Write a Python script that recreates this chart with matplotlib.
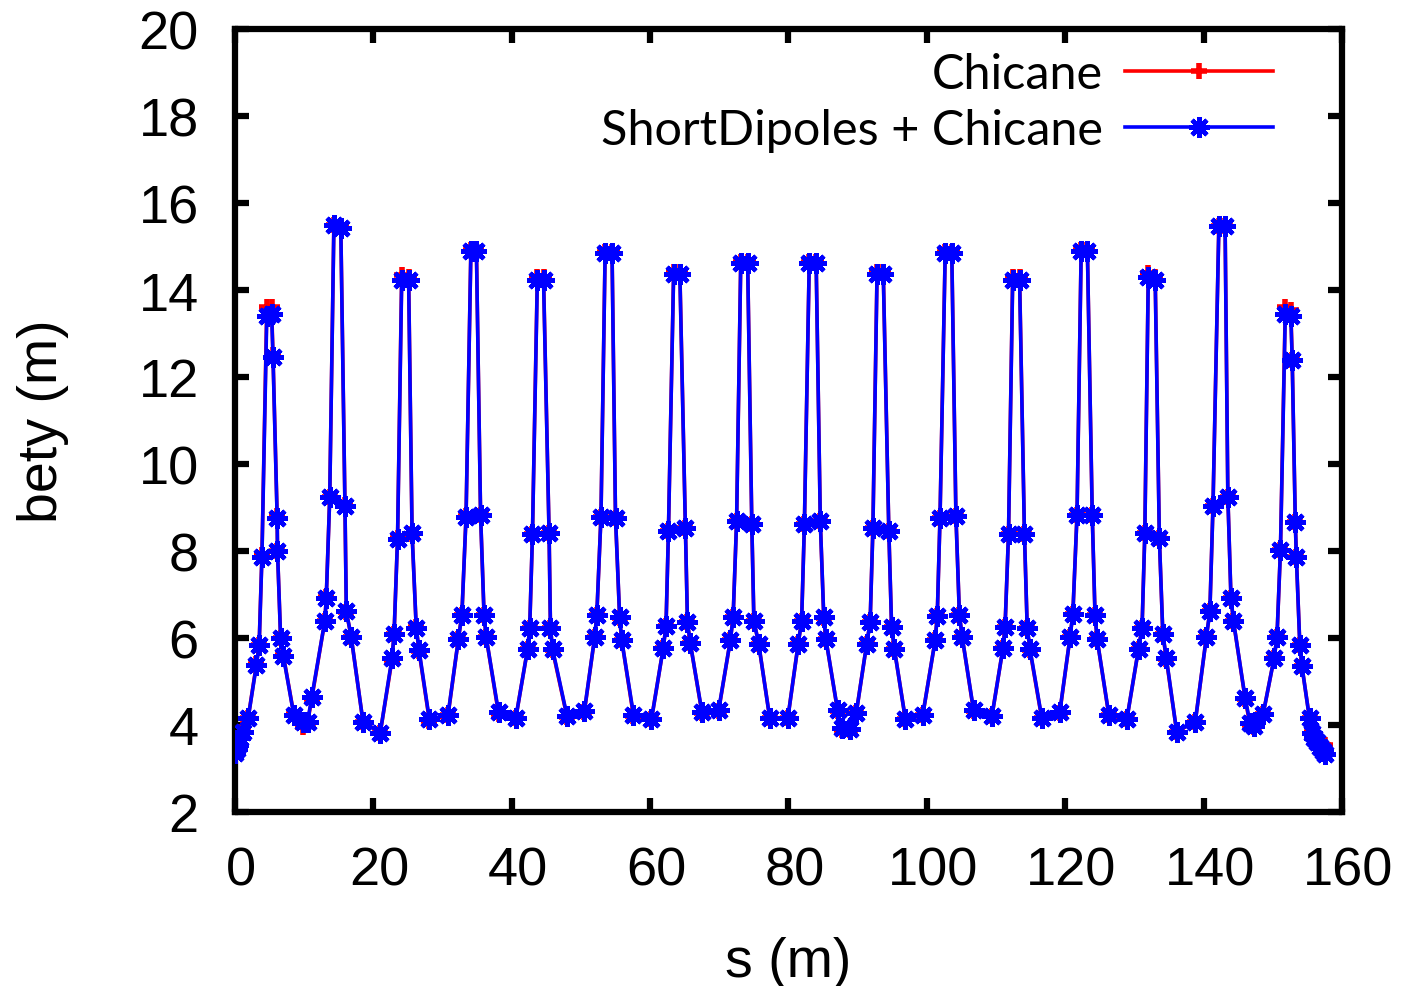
import matplotlib
matplotlib.use("Agg")
import matplotlib.pyplot as plt
import matplotlib.transforms as mtrans

# positions along the line (m), shared by both runs
s_pos = [
    0.0, 0.25, 0.5, 0.8, 1.1, 1.9,
    3.1, 3.5, 3.9, 4.6, 5.3, 5.5, 6.1, 6.15, 6.6, 7.0,
    8.5, 9.9, 10.5, 11.1,
    13.0, 13.2, 13.7, 14.3, 15.3, 15.9, 16.1, 16.8,
    18.5, 21.0,
    22.7, 23.0, 23.5, 24.1, 25.1, 25.6, 26.2, 26.6,
    28.1, 30.8,
    32.3, 32.8, 33.4, 34.1, 34.9, 35.5, 36.0, 36.3,
    38.1, 40.6,
    42.3, 42.6, 43.0, 43.7, 44.6, 45.4, 45.6, 45.9,
    48.0, 50.5,
    52.0, 52.3, 52.9, 53.5, 54.5, 55.0, 55.6, 55.9,
    57.6, 60.2,
    61.9, 62.3, 62.65, 63.4, 64.3, 65.1, 65.4, 65.8,
    67.5, 69.9,
    71.6, 72.0, 72.5, 73.1, 74.1, 74.7, 75.0, 75.7,
    77.3, 79.9,
    81.4, 81.9, 82.3, 83.0, 84.0, 84.6, 85.1, 85.4,
    87.1, 87.7, 88.9, 89.8,
    91.3, 91.8, 92.2, 92.8, 93.7, 94.5, 94.9, 95.3,
    96.9, 99.4,
    101.2, 101.5, 101.9, 102.65, 103.6, 104.2, 104.7, 105.1,
    106.75, 109.4,
    111.0, 111.3, 111.8, 112.4, 113.4, 114.1, 114.5, 114.9,
    116.6, 119.2,
    120.7, 121.1, 121.7, 122.3, 123.2, 123.9, 124.3, 124.6,
    126.3, 128.9,
    130.6, 131.1, 131.5, 132.0, 133.0, 133.6, 134.1, 134.6,
    136.1, 138.8,
    140.4, 140.9, 141.35, 142.2, 143.1, 143.5, 143.95, 144.3,
    146.0, 146.7, 147.3, 148.6,
    150.2, 150.6, 151.1, 151.8, 152.6, 152.8, 153.25, 153.4, 153.9, 154.2,
    155.3, 155.66, 156.0, 156.4, 156.8, 157.3, 157.6,
]

bety_short_dipoles = [
    3.35, 3.45, 3.55, 3.7, 3.85, 4.15,
    5.37, 5.84, 7.86, 13.4, 13.45, 12.46, 8.77, 8.0, 6.0, 5.58,
    4.24, 4.06, 4.08, 4.64,
    6.4, 6.92, 9.24, 15.49, 15.42, 9.03, 6.61, 6.03,
    4.08, 3.82,
    5.54, 6.10, 8.28, 14.22, 14.24, 8.41, 6.24, 5.73,
    4.13, 4.24,
    5.98, 6.54, 8.79, 14.90, 14.90, 8.83, 6.54, 6.03,
    4.29, 4.17,
    5.75, 6.24, 8.39, 14.22, 14.22, 8.41, 6.24, 5.75,
    4.2, 4.32,
    6.03, 6.54, 8.79, 14.85, 14.85, 8.77, 6.48, 5.95,
    4.24, 4.13,
    5.77, 6.28, 8.45, 14.37, 14.37, 8.52, 6.36, 5.89,
    4.29, 4.34,
    5.95, 6.48, 8.68, 14.62, 14.62, 8.61, 6.4, 5.86,
    4.15, 4.15,
    5.86, 6.4, 8.61, 14.62, 14.62, 8.68, 6.48, 5.98,
    4.34, 3.92, 3.9, 4.28,
    5.86, 6.36, 8.52, 14.37, 14.37, 8.47, 6.26, 5.75,
    4.13, 4.22,
    5.95, 6.5, 8.77, 14.85, 14.85, 8.8, 6.54, 6.03,
    4.34, 4.2,
    5.77, 6.26, 8.39, 14.22, 14.22, 8.39, 6.24, 5.75,
    4.17, 4.29,
    6.03, 6.56, 8.83, 14.9, 14.9, 8.83, 6.54, 5.98,
    4.24, 4.13,
    5.75, 6.24, 8.41, 14.3, 14.22, 8.3, 6.1, 5.55,
    3.85, 4.08,
    6.03, 6.61, 9.03, 15.46, 15.46, 9.24, 6.92, 6.4,
    4.62, 4.05, 3.97, 4.25,
    5.55, 6.03, 8.02, 13.45, 13.4, 12.4, 8.66, 7.86, 5.84, 5.36,
    4.15, 3.82, 3.7, 3.6, 3.5, 3.4, 3.33,
]

# chicane only: almost the same, peeks out at a few spots
bety_chicane = [
    3.5, 3.55, 3.7, 3.8, 3.95, 4.15,
    5.4, 5.85, 7.9, 13.6, 13.6, 12.5, 8.8, 8.0, 6.0, 5.6,
    4.25, 3.95, 4.05, 4.6,
    6.4, 6.95, 9.25, 15.5, 15.45, 9.05, 6.6, 6.03,
    4.08, 3.82,
    5.5, 6.1, 8.3, 14.35, 14.3, 8.4, 6.25, 5.7,
    4.1, 4.22,
    5.98, 6.54, 8.8, 14.92, 14.92, 8.83, 6.54, 6.03,
    4.25, 4.17,
    5.75, 6.22, 8.39, 14.3, 14.3, 8.41, 6.24, 5.72,
    4.18, 4.3,
    6.03, 6.54, 8.79, 14.87, 14.87, 8.77, 6.45, 5.95,
    4.2, 4.13,
    5.77, 6.28, 8.45, 14.42, 14.42, 8.52, 6.36, 5.89,
    4.27, 4.32,
    5.95, 6.48, 8.68, 14.64, 14.64, 8.61, 6.4, 5.86,
    4.15, 4.15,
    5.86, 6.4, 8.61, 14.64, 14.64, 8.68, 6.45, 5.98,
    4.32, 3.88, 3.88, 4.28,
    5.86, 6.36, 8.52, 14.42, 14.42, 8.47, 6.26, 5.75,
    4.13, 4.22,
    5.95, 6.5, 8.77, 14.87, 14.87, 8.8, 6.54, 6.03,
    4.32, 4.2,
    5.77, 6.26, 8.39, 14.3, 14.3, 8.39, 6.24, 5.72,
    4.15, 4.27,
    6.03, 6.56, 8.83, 14.92, 14.92, 8.83, 6.54, 5.98,
    4.22, 4.13,
    5.75, 6.24, 8.41, 14.38, 14.3, 8.3, 6.1, 5.52,
    3.85, 4.08,
    6.03, 6.61, 9.03, 15.48, 15.48, 9.24, 6.92, 6.4,
    4.6, 4.0, 3.95, 4.25,
    5.55, 6.03, 8.02, 13.6, 13.55, 12.4, 8.66, 7.86, 5.84, 5.36,
    4.15, 3.85, 3.75, 3.68, 3.6, 3.55, 3.55,
]

x_ticks = [0, 20, 40, 60, 80, 100, 120, 140, 160]
y_ticks = [2, 4, 6, 8, 10, 12, 14, 16, 18, 20]

plt.rcParams["font.family"] = ["Liberation Sans", "DejaVu Sans"]

fig = plt.figure(figsize=(14.06, 9.87), dpi=100)
ax = fig.add_axes([0.1671, 0.1763, 0.7874, 0.7933])

ax.plot(s_pos, bety_chicane, color="red", lw=2.6, marker="+",
        ms=11, mew=4.0, label="Chicane", zorder=2)
ax.plot(s_pos, bety_short_dipoles, color="blue", lw=2.6, marker=(8, 2, 0),
        ms=15, mew=3.2, label="ShortDipoles + Chicane", zorder=3)

ax.set_xlim(0, 160)
ax.set_ylim(2, 20)
ax.set_xticks(x_ticks)
ax.set_yticks(y_ticks)

for side in ax.spines.values():
    side.set_linewidth(4.5)
ax.tick_params(direction="in", length=10, width=4.5, labelsize=39,
               top=True, right=True)
ax.tick_params(axis="y", pad=26)
ax.tick_params(axis="x", pad=24)

# gnuplot puts the x labels a little to the right of the ticks
shift = mtrans.ScaledTranslation(0.06, 0, fig.dpi_scale_trans)
for lbl in ax.get_xticklabels():
    lbl.set_transform(lbl.get_transform() + shift)

ax.set_xlabel("s (m)", fontsize=40, labelpad=29)
ax.set_ylabel("bety (m)", fontsize=40, labelpad=50)

ax.legend(loc="upper right", bbox_to_anchor=(0.9377, 0.9710),
          frameon=False, markerfirst=False,
          handlelength=3.05, handletextpad=0.45, labelspacing=0.25,
          borderpad=0, borderaxespad=0,
          prop={"family": ["Lato", "DejaVu Sans"], "size": 35})

fig.savefig("out.png", dpi=100)
plt.close(fig)
